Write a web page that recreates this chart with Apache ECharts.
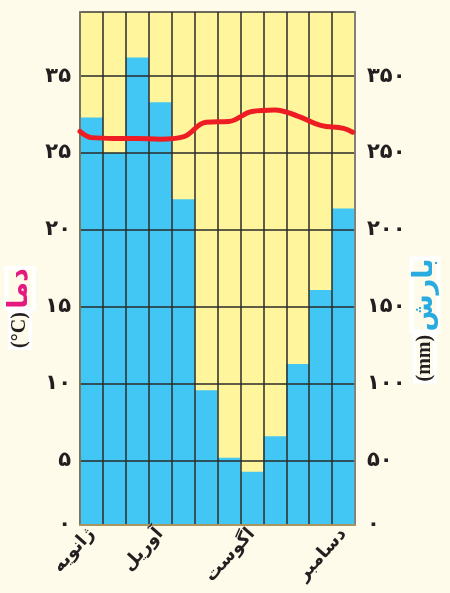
<!DOCTYPE html>
<html>
<head>
<meta charset="utf-8">
<script src="https://cdn.jsdelivr.net/npm/echarts@6/dist/echarts.min.js"></script>
<style>
  html, body { margin: 0; padding: 0; background: #FEFBEA; }
  #chart { width: 450px; height: 593px; }
</style>
</head>
<body>
<div id="chart"></div>
<script>
// months (only some are printed under the axis)
const months = ['ژانویه', 'فوریه', 'مارس', 'آوریل', 'مه', 'ژوئن', 'ژوئیه', 'اگوست', 'سپتامبر', 'اکتبر', 'نوامبر', 'دسامبر'];
const shownMonths = [0, 3, 7, 11];

// precipitation (mm) per month
const rain = [273, 250, 312, 283, 220, 96, 52, 43, 66, 113, 161, 214];

// temperature curve: position along the months (0..12) and value in °C
const tempPos = [0, 0.5, 1.5, 2.5, 3.5, 4.5, 5.5, 6.5, 7.5, 8.5, 9.5, 10.5, 11.5, 11.9];
const temp = [26.4, 26.0, 25.95, 25.95, 25.9, 26.05, 27.0, 27.05, 27.7, 27.8, 27.4, 26.8, 26.6, 26.35];

// tick labels as printed
const tempTicks = [0, 5, 10, 15, 20, 25, 30];
const tempLabels = ['۰', '۵', '۱۰', '۱۵', '۲۰', '۲۵', '۳۵'];
const rainTicks = [0, 50, 100, 150, 200, 250, 300];
const rainLabels = ['۰', '۵۰', '۱۰۰', '۱۵۰', '۲۰۰', '۲۵۰', '۳۵۰'];

// the printed zero sits at the bottom edge of the plot
const tempMin = 0.84, tempMax = 34.16;
const rainMin = 8.4, rainMax = 341.6;

const tempVals = tempTicks.map(v => Math.max(v, tempMin));
const rainVals = rainTicks.map(v => Math.max(v, rainMin));

const labelFor = (ticks, labels) => (v) => {
    let best = 0;
    ticks.forEach((t, i) => { if (Math.abs(t - v) < Math.abs(ticks[best] - v)) best = i; });
    return labels[best];
};

const gridLine = { show: true, lineStyle: { color: '#2a2a2a', width: 1.5 } };
const fontFam = '"DejaVu Sans", sans-serif';

const getOption = () => {
    return {
        backgroundColor: '#FEFBEA',
        animation: false,
        grid: {
            left: 80, right: 95, top: 12, bottom: 68,
            show: true,
            backgroundColor: '#FFF59C',
            borderColor: '#3a3a3a',
            borderWidth: 1.5
        },
        xAxis: [
            {
                type: 'category',
                data: months,
                z: 3,
                axisLine: { onZero: false, lineStyle: { color: '#A8965E', width: 2 } },
                axisTick: { show: false },
                splitLine: Object.assign({ interval: 0 }, gridLine),
                axisLabel: {
                    rotate: 48,
                    margin: 6,
                    fontSize: 18,
                    fontWeight: 'bold',
                    color: '#231F20',
                    fontFamily: fontFam,
                    interval: (i) => shownMonths.includes(i)
                }
            },
            { type: 'value', min: 0, max: 12, show: false }
        ],
        yAxis: [
            {
                type: 'value',
                min: tempMin, max: tempMax,
                z: 3,
                axisLine: { show: true, onZero: false, lineStyle: { color: '#8E8C70', width: 1.5 } },
                axisTick: { show: false, customValues: tempVals },
                splitLine: gridLine,
                axisLabel: {
                    customValues: tempVals,
                    formatter: labelFor(tempVals, tempLabels),
                    margin: 9,
                    fontSize: 21,
                    fontWeight: 'bold',
                    color: '#231F20',
                    fontFamily: fontFam
                }
            },
            {
                type: 'value',
                min: rainMin, max: rainMax,
                z: 3,
                axisLine: { show: true, onZero: false, lineStyle: { color: '#9A9A90', width: 1.5 } },
                axisTick: { show: false, customValues: rainVals },
                splitLine: { show: false },
                axisLabel: {
                    customValues: rainVals,
                    formatter: labelFor(rainVals, rainLabels),
                    margin: 12,
                    fontSize: 21,
                    fontWeight: 'bold',
                    color: '#231F20',
                    fontFamily: fontFam
                }
            }
        ],
        graphic: [
            {
                type: 'text',
                x: 20, y: 308,
                rotation: Math.PI / 2,
                style: {
                    text: '{u|(°C)} {n|دما}',
                    align: 'center',
                    verticalAlign: 'middle',
                    rich: {
                        u: { fontSize: 20, fontWeight: 'bold', fontFamily: '"Liberation Serif", serif', fill: '#231F20', textBorderColor: '#fff', textBorderWidth: 4 },
                        n: { fontSize: 27, fontWeight: 'bold', fontFamily: fontFam, fill: '#E6197F', textBorderColor: '#fff', textBorderWidth: 4 }
                    }
                }
            },
            {
                type: 'text',
                x: 425, y: 320,
                rotation: Math.PI / 2,
                style: {
                    text: '{u|(mm)} {n|بارش}',
                    align: 'center',
                    verticalAlign: 'middle',
                    rich: {
                        u: { fontSize: 20, fontWeight: 'bold', fontFamily: '"Liberation Serif", serif', fill: '#231F20', textBorderColor: '#fff', textBorderWidth: 4 },
                        n: { fontSize: 27, fontWeight: 'bold', fontFamily: fontFam, fill: '#29ABE2', textBorderColor: '#fff', textBorderWidth: 4 }
                    }
                }
            }
        ],
        series: [
            {
                type: 'bar',
                xAxisIndex: 0,
                yAxisIndex: 1,
                data: rain,
                barCategoryGap: '0%',
                z: 2,
                itemStyle: { color: '#42C6F3' }
            },
            {
                type: 'line',
                xAxisIndex: 1,
                yAxisIndex: 0,
                data: tempPos.map((p, i) => [p, temp[i]]),
                smooth: 0.4,
                symbol: 'none',
                z: 5,
                lineStyle: { color: '#EE1D24', width: 5, cap: 'round' }
            }
        ]
    };
};

window.addEventListener('load', () => {
    const chart = echarts.init(document.getElementById('chart'));
    chart.setOption(getOption());
});
</script>
</body>
</html>
